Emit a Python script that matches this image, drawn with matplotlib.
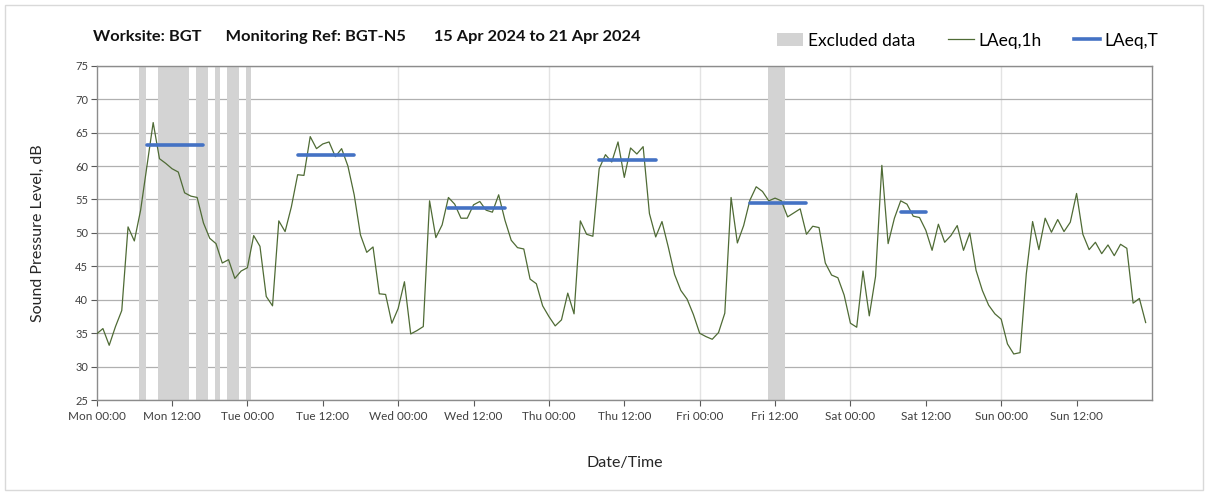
import matplotlib.pyplot as plt
from matplotlib.patches import Rectangle
from matplotlib.lines import Line2D
import numpy as np

# hourly LAeq,1h values, Mon 00:00 .. Sun 23:00
laeq_1h = [
    34.9, 35.7, 33.2, 36.0, 38.4, 50.9, 48.8, 53.4, 59.9, 66.5, 61.1, 60.4,
    59.6, 59.1, 56.0, 55.5, 55.3, 51.5, 49.2, 48.4, 45.5, 46.0, 43.2, 44.3,
    44.8, 49.6, 48.0, 40.5, 39.1, 51.8, 50.2, 53.9, 58.7, 58.6, 64.4, 62.6,
    63.3, 63.6, 61.4, 62.6, 60.0, 55.7, 49.7, 47.1, 47.9, 40.9, 40.8, 36.5,
    38.7, 42.7, 34.9, 35.4, 36.0, 54.8, 49.3, 51.2, 55.3, 54.3, 52.2, 52.2,
    54.2, 54.7, 53.4, 53.1, 55.7, 51.9, 48.9, 47.8, 47.6, 43.1, 42.4, 39.1,
    37.5, 36.1, 37.0, 41.0, 37.9, 51.8, 49.8, 49.5, 59.6, 61.7, 60.6, 63.6,
    58.3, 62.7, 61.8, 62.9, 52.9, 49.4, 51.7, 47.9, 43.8, 41.4, 40.1, 37.8,
    35.0, 34.5, 34.1, 35.1, 38.0, 55.3, 48.5, 51.1, 54.9, 56.9, 56.2, 54.8,
    55.2, 54.8, 52.4, 53.0, 53.6, 49.8, 51.0, 50.8, 45.5, 43.7, 43.3, 40.7,
    36.5, 35.9, 44.3, 37.6, 43.5, 60.1, 48.4, 52.2, 54.8, 54.3, 52.5, 52.3,
    50.4, 47.4, 51.3, 48.6, 49.6, 51.1, 47.4, 50.0, 44.4, 41.4, 39.2, 37.9,
    37.1, 33.4, 31.9, 32.1, 43.9, 51.7, 47.5, 52.2, 50.1, 52.0, 50.2, 51.6,
    55.9, 49.8, 47.5, 48.6, 46.9, 48.2, 46.6, 48.3, 47.7, 39.5, 40.2, 36.6,
]

# LAeq,T periods: (start hour, end hour, level)
laeq_t_start = [8, 32, 56, 80, 104, 128]
laeq_t_end = [17, 41, 65, 89, 113, 132]
laeq_t_value = [63.2, 61.7, 53.8, 60.9, 54.4, 53.2]

# excluded data periods (hours from Mon 00:00)
excl_start = [6.75, 9.8, 15.85, 18.8, 20.75, 23.75, 106.8]
excl_end = [7.8, 14.75, 17.65, 19.65, 22.7, 24.6, 109.6]

tick_labels = ["Mon 00:00", "Mon 12:00", "Tue 00:00", "Tue 12:00", "Wed 00:00",
               "Wed 12:00", "Thu 00:00", "Thu 12:00", "Fri 00:00", "Fri 12:00",
               "Sat 00:00", "Sat 12:00", "Sun 00:00", "Sun 12:00"]

plt.rcParams["font.family"] = ["Lato", "DejaVu Sans"]

fig = plt.figure(figsize=(12.08, 4.94), dpi=100)
ax = fig.add_axes([0.080, 0.19, 0.8736, 0.677])

fig.patches.append(Rectangle((0.004, 0.008), 0.992, 0.982, transform=fig.transFigure,
                             fill=False, edgecolor="#d9d9d9", linewidth=1.0))

for s, e in zip(excl_start, excl_end):
    ax.axvspan(s, e, color="#d3d3d3", linewidth=0, zorder=1)

hours = np.arange(len(laeq_1h))
ax.plot(hours, laeq_1h, color="#4f6b35", linewidth=0.9, zorder=3)

for s, e, v in zip(laeq_t_start, laeq_t_end, laeq_t_value):
    ax.plot([s, e], [v, v], color="#4472c4", linewidth=2.6, solid_capstyle="round", zorder=4)

ax.set_xlim(0, 168)
ax.set_ylim(25, 75)
ax.set_yticks(np.arange(25, 80, 5))
ax.set_xticks(np.arange(0, 168, 12))
ax.set_xticklabels(tick_labels)
ax.tick_params(axis="both", colors="#595959", length=4, width=0.8)
ax.tick_params(axis="x", labelsize=8.5, labelcolor="#404040", pad=4)
ax.tick_params(axis="y", labelsize=8, labelcolor="#404040", pad=2)

ax.grid(axis="y", color="#b0b0b0", linewidth=0.9, zorder=0)
for d in range(24, 168, 24):
    ax.axvline(d, color="#e3e3e3", linewidth=1.0, zorder=0)
ax.set_axisbelow(True)
for sp in ax.spines.values():
    sp.set_color("#8c8c8c")
    sp.set_linewidth(1.0)

ax.set_ylabel("Sound Pressure Level, dB", fontsize=11.5, color="#262626", labelpad=22)
ax.set_xlabel("Date/Time", fontsize=11.5, color="#262626", labelpad=24)

fig.text(0.077, 0.925, "Worksite: BGT      Monitoring Ref: BGT-N5       15 Apr 2024 to 21 Apr 2024",
         fontsize=11.8, fontweight="bold", color="#111111", va="center")

handles = [Rectangle((0, 0), 1, 1, facecolor="#d3d3d3", edgecolor="none"),
           Line2D([], [], color="#4f6b35", linewidth=0.9),
           Line2D([], [], color="#4472c4", linewidth=2.6)]
fig.legend(handles, ["Excluded data", "LAeq,1h", "LAeq,T"], loc="center right",
           bbox_to_anchor=(0.972, 0.918), ncol=3, frameon=False, fontsize=12.5,
           handlelength=1.5, handletextpad=0.25, columnspacing=1.9)

fig.savefig("out.png", dpi=100)
